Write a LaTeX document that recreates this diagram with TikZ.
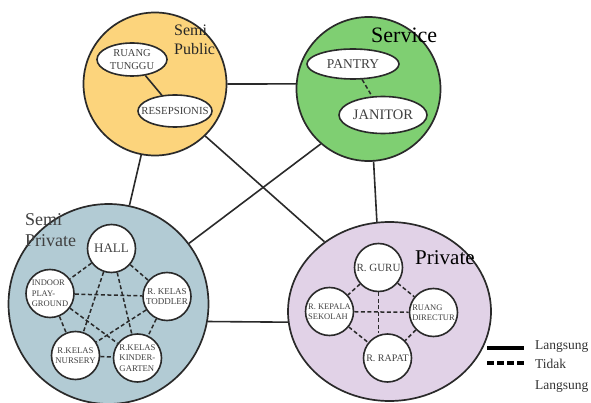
\documentclass[tikz,border=0pt]{standalone}
\usepackage{fontspec}
\setmainfont{Liberation Serif}
\usetikzlibrary{shapes.geometric}
\definecolor{zoneY}{HTML}{FCD47C}
\definecolor{zoneG}{HTML}{7FCF72}
\definecolor{zoneB}{HTML}{B2CBD4}
\definecolor{zoneP}{HTML}{E1D2E7}
\definecolor{edgegray}{HTML}{2A2A2A}
\definecolor{labelgray}{HTML}{404040}
\tikzset{
    zone/.style={draw=edgegray, line width=1.7pt, circle, inner sep=0pt, minimum size=#1},
    room/.style={draw=edgegray, line width=1.6pt, fill=white, circle, inner sep=0pt,
        minimum size=48pt, text=labelgray, align=center},
    roomE/.style 2 args={draw=edgegray, line width=1.6pt, fill=white, ellipse, inner sep=0pt,
        minimum width=#1, minimum height=#2},
    roomtext/.style={text=labelgray, align=center, inner sep=0pt},
    link/.style={draw=edgegray, line width=1.6pt},
    linkD/.style={draw=edgegray, line width=1.5pt, dash pattern=on 4pt off 2.5pt},
    zonelabel/.style={inner sep=0pt, align=left},
}
\begin{document}
\begin{tikzpicture}[x=1pt, y=-1pt]
    \useasboundingbox (0,0) rectangle (591,403);
    % zones
    \node[zone=143pt, fill=zoneY] (spub) at (155,84) {};
    \node[zone=144pt, fill=zoneG] (serv) at (368.5,89) {};
    \node[zone=200pt, fill=zoneB] (spriv) at (108.5,304) {};
    \node[draw=edgegray, line width=1.7pt, ellipse, fill=zoneP, inner sep=0pt,
        minimum width=203pt, minimum height=179pt] (priv) at (389.5,311.5) {};
    % links between zones
    \draw[link] (spub.0) -- (serv.176);
    \draw[link] (spub.259.6) -- (spriv.78.6);
    \draw[link] (spub.-46.7) -- (priv.133.4);
    \draw[link] (serv.229) -- (spriv.37.3);
    \draw[link] (serv.274.4) -- (priv.98);
    \draw[link] (spriv.-10.7) -- (priv.186);
    % zone labels
    \node[zonelabel, anchor=north west, font=\fontsize{16}{19}\selectfont, text=black!85] (lspub) at (174,25) {Semi\\Public};
    \node[anchor=base west, inner sep=0pt, font=\fontsize{22}{26}\selectfont] (lserv) at (371,43) {Service};
    \node[zonelabel, anchor=north west, font=\fontsize{18}{21}\selectfont, text=labelgray] (lspriv) at (25,213) {Semi\\Private};
    \node[anchor=base west, inner sep=0pt, font=\fontsize{21}{25}\selectfont] (lpriv) at (415,264) {Private};
    % semi public
    \node[roomE={70pt}{33pt}, label={[roomtext, font=\fontsize{10.5}{12.5}\selectfont]center:{RUANG\\TUNGGU}}] (tunggu) at (132,59.5) {};
    \node[roomE={74pt}{32pt}, label={[roomtext, font=\fontsize{10.8}{12.5}\selectfont]center:RESEPSIONIS}] (resep) at (175,111) {};
    \draw[link] (tunggu) -- (resep);
    % service
    \node[roomE={92pt}{30pt}, label={[roomtext, font=\fontsize{13.5}{16}\selectfont]center:PANTRY}] (pantry) at (353,64) {};
    \node[roomE={88pt}{37pt}, label={[roomtext, font=\fontsize{14.5}{16}\selectfont]center:JANITOR}] (janitor) at (383,115) {};
    \draw[linkD] (pantry) -- (janitor);
    % semi private
    \node[room, font=\fontsize{13}{15}\selectfont] (hall) at (111.5,248.5) {HALL};
    \node[room, font=\fontsize{8.5}{10.5}\selectfont, align=left] (indoor) at (50,293.5) {INDOOR\\PLAY-\\GROUND};
    \node[room, font=\fontsize{9}{10}\selectfont] (toddler) at (167,296.5) {R. KELAS\\TODDLER};
    \node[room, font=\fontsize{8.7}{10.5}\selectfont] (nursery) at (75.5,355.5) {R.KELAS\\NURSERY};
    \node[room, font=\fontsize{8.7}{10.5}\selectfont, align=left] (kinder) at (137.5,358) {R.KELAS\\KINDER-\\GARTEN};
    \foreach \a/\b in {hall/indoor, hall/toddler, hall/nursery, hall/kinder, indoor/toddler,
        indoor/nursery, indoor/kinder, toddler/nursery, toddler/kinder, nursery/kinder}
        \draw[linkD] (\a) -- (\b);
    % private
    \node[room, font=\fontsize{11}{12}\selectfont] (guru) at (378.5,267.5) {R. GURU};
    \node[room, font=\fontsize{8.5}{10}\selectfont, align=left] (kepala) at (329.5,311.5) {R. KEPALA\\SEKOLAH};
    \node[room, font=\fontsize{8.5}{10}\selectfont, align=left] (direktur) at (433.5,312.5) {RUANG\\DIRECTUR};
    \node[room, font=\fontsize{10}{12}\selectfont] (rapat) at (387.5,358) {R. RAPAT};
    \foreach \a/\b in {guru/kepala, guru/direktur, kepala/rapat, direktur/rapat, kepala/direktur}
        \draw[linkD] (\a) -- (\b);
    \draw[linkD] (guru.south) -- (guru.south |- rapat.north);
    % legend
    \coordinate (lgA) at (487,348);
    \coordinate (lgB) at (524,348);
    \coordinate (lgC) at (487,363);
    \coordinate (lgD) at (524,363);
    \draw[line width=4pt] (lgA) -- (lgB);
    \draw[line width=4pt, dash pattern=on 7pt off 3pt] (lgC) -- (lgD);
    \node[anchor=base west, inner sep=0pt, text=black!80, font=\fontsize{13.5}{20.5}\selectfont] (lgT1) at (535,349) {Langsung};
    \node[anchor=north west, inner sep=0pt, align=left, text=black!80, font=\fontsize{13.5}{21}\selectfont] (lgT2) at (535,358.8) {Tidak\\Langsung};
\end{tikzpicture}
\end{document}
